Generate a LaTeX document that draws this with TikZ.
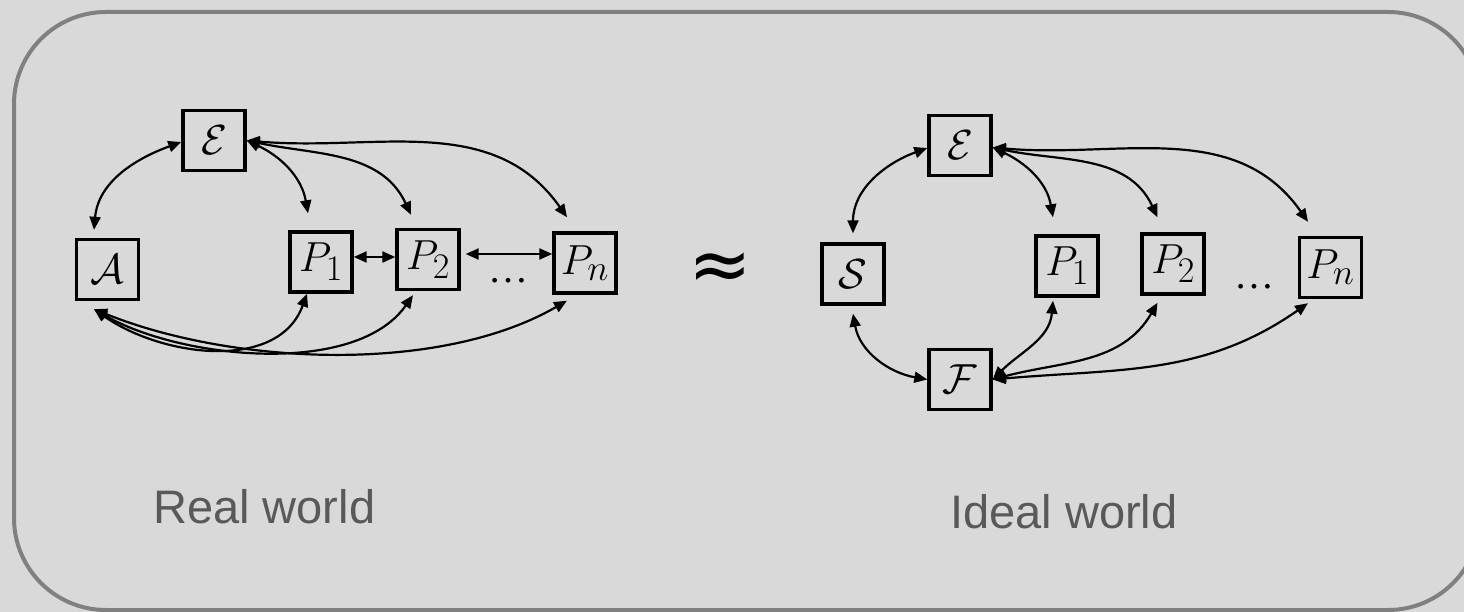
\RequirePackage{fix-cm}
\documentclass[tikz,border=0pt]{standalone}
\usepackage{fontspec}
\setmainfont{Liberation Sans}
\newfontfamily\dotfont{Liberation Serif}
\newfontfamily\symfont{DejaVu Sans}
\DeclareMathSizes{42}{42}{36}{29}
\usetikzlibrary{arrows.meta}
\definecolor{bg}{HTML}{D9D9D9}
\definecolor{framecol}{HTML}{808080}
\definecolor{txt}{HTML}{595959}
\begin{document}
\begin{tikzpicture}[x=1pt,y=1pt,
  box/.style={draw,line width=3.4pt,minimum width=62pt,minimum height=60pt,inner sep=0pt,font=\fontsize{42}{44}\selectfont},
  link/.style={line width=2.2pt,{Triangle[length=13pt,width=11pt]}-{Triangle[length=13pt,width=11pt]}},
  lbl/.style={text=txt,font=\fontsize{47}{56}\selectfont,inner sep=0pt,anchor=base west},
  dotsty/.style={anchor=base,inner sep=0pt,font=\fontsize{40}{40}\selectfont\dotfont},
  apxsty/.style={inner sep=0pt,font=\fontsize{76}{76}\selectfont\symfont}]
\fill[bg] (0,0) rectangle (1464,-612);
\useasboundingbox (0,0) rectangle (1464,-612);
\draw[framecol,line width=4pt,rounded corners=92pt] (14,-12) rectangle (1480,-610);

% left: real world
\node[box] (E1) at (214,-140.5) {$\mathcal{E}$};
\node[box] (A) at (107.5,-269.5) {$\mathcal{A}$};
\node[box] (P11) at (321,-262) {$P_1$};
\node[box] (P12) at (428,-259.5) {$P_2$};
\node[box] (P1n) at (585,-263) {$P_n$};
\node[dotsty] (d1) at (508,-283) {…};

\draw[link] ([yshift=-1.5]E1.west) to[out=200,in=85] ([xshift=-13.5,yshift=8]A.north);
\draw[link] (E1.east) to[out=-25,in=100] ([xshift=-13,yshift=17]P11.north);
\draw[link] (E1.east) to[out=-12,in=115] ([xshift=-17,yshift=13]P12.north);
\draw[link] (E1.east) to[out=-5,in=125] ([xshift=-18,yshift=14]P1n.north);
\draw[link] ([yshift=5]P11.east) -- ([yshift=2.5]P12.west);
\draw[link] ([xshift=5,yshift=5.5]P12.east) -- ([yshift=9]P1n.west);
\draw[link] ([xshift=-13.5,yshift=-8]A.south) to[out=-35,in=-110] ([xshift=-14]P11.south);
\draw[link] ([xshift=-13.5,yshift=-8]A.south) to[out=-30,in=-125,looseness=0.8] ([xshift=-15,yshift=-4]P12.south);
\draw[link] ([xshift=-13.5,yshift=-8]A.south) to[out=-22,in=-150,looseness=0.8] ([xshift=-18,yshift=-6]P1n.south);

\node[apxsty] (apx) at (720.5,-271.5) {≈};

% right: ideal world
\node[box] (E2) at (960,-145.5) {$\mathcal{E}$};
\node[box] (S) at (853,-274) {$\mathcal{S}$};
\node[box] (P21) at (1067,-266) {$P_1$};
\node[box] (P22) at (1173,-264) {$P_2$};
\node[box] (P2n) at (1330.5,-267.5) {$P_n$};
\node[box] (F) at (960,-379.5) {$\mathcal{F}$};
\node[dotsty] (d2) at (1254.5,-289) {…};

\draw[link] ([yshift=-2.5]E2.west) to[out=200,in=90] ([yshift=9]S.north);
\draw[link] ([yshift=-2]E2.east) to[out=-25,in=100] ([xshift=-14,yshift=17]P21.north);
\draw[link] ([yshift=-2]E2.east) to[out=-12,in=115] ([xshift=-15.5,yshift=15]P22.north);
\draw[link] ([yshift=-2]E2.east) to[out=-5,in=125] ([xshift=-22.5,yshift=14]P2n.north);
\draw[link] ([yshift=-8]S.south) to[out=-80,in=170] (F.west);
\draw[link] (F.east) to[out=45,in=-95] ([xshift=-14,yshift=-3]P21.south);
\draw[link] (F.east) to[out=15,in=-120] ([xshift=-15.5,yshift=-7]P22.south);
\draw[link] (F.east) to[out=5,in=-145] ([xshift=-22.5,yshift=-4]P2n.south);

\node[lbl] (real) at (153,-523) {Real world};
\node[lbl] (ideal) at (950,-528) {Ideal world};
\end{tikzpicture}
\end{document}
